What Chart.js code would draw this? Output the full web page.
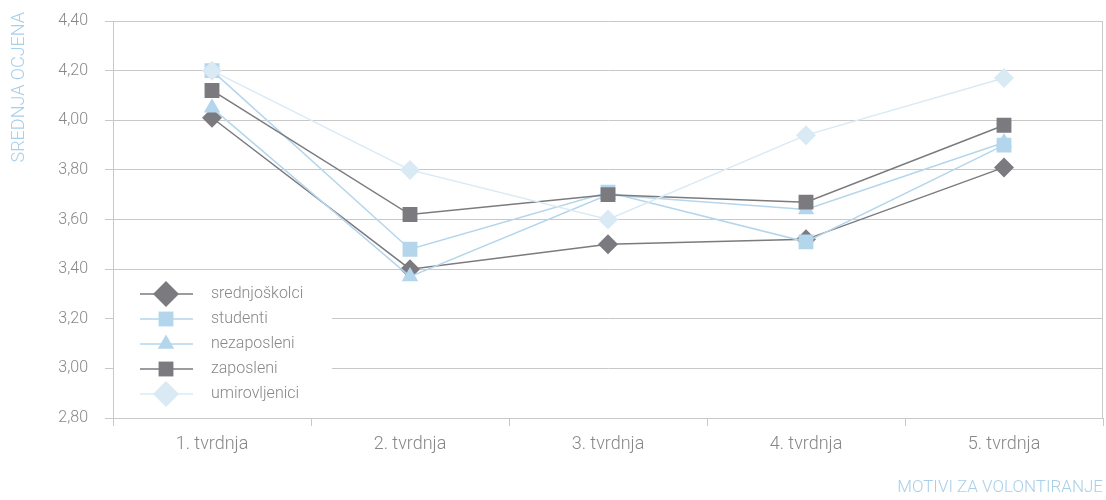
<!DOCTYPE html>
<html>
<head>
<meta charset="utf-8">
<script src="https://cdn.jsdelivr.net/npm/chart.js@4/dist/chart.umd.min.js"></script>
<style>
html,body{margin:0;padding:0;background:#fff;overflow:hidden;}
canvas{display:block;}
</style>
</head>
<body>
<canvas id="c" width="1106" height="500"></canvas>
<script>
const FONT="Roboto,'DejaVu Sans Condensed',sans-serif";
const categories=['1. tvrdnja','2. tvrdnja','3. tvrdnja','4. tvrdnja','5. tvrdnja'];
const srednjoskolci=[4.01,3.40,3.50,3.52,3.81];
const studenti=[4.20,3.48,3.71,3.51,3.90];
const nezaposleni=[4.05,3.37,3.70,3.64,3.91];
const zaposleni=[4.12,3.62,3.70,3.67,3.98];
const umirovljenici=[4.20,3.80,3.60,3.94,4.17];
const yTicks=[2.8,3.0,3.2,3.4,3.6,3.8,4.0,4.2,4.4];

const DARK='#7b7a7f', BLUE='#b4d6ec', PALE='#d9eaf5', GRID='#c8c8c8', TXT='#878787', TITLE='#a9cfe9';

// [label, data, colour, style, radius in chart, radius in legend, draw order]
const series=[
  ['srednjoškolci',srednjoskolci,DARK,'rectRot',10,13,4],
  ['studenti',studenti,BLUE,'rect',10.5,10.5,2],
  ['nezaposleni',nezaposleni,BLUE,'triangle',9.5,9.5,3],
  ['zaposleni',zaposleni,DARK,'rect',10.5,10.5,1],
  ['umirovljenici',umirovljenici,PALE,'rectRot',10,13,0]
];

const boxLegend={id:'boxLegend',
  beforeDatasetsDraw(chart){
    const ctx=chart.ctx;ctx.save();
    ctx.fillStyle='#fff';ctx.fillRect(114,273,218,138);
    const a=chart.chartArea;ctx.strokeStyle=GRID;ctx.lineWidth=1;
    ctx.beginPath();ctx.moveTo(a.right-0.5,a.top);ctx.lineTo(a.right-0.5,a.bottom);ctx.stroke();
    series.forEach((s,i)=>{
      const y=294+i*25;
      ctx.strokeStyle=s[2];ctx.lineWidth=1.5;
      ctx.beginPath();ctx.moveTo(140,y);ctx.lineTo(193,y);ctx.stroke();
      ctx.fillStyle=s[2];
      Chart.helpers.drawPoint(ctx,{pointStyle:s[3],radius:s[5],borderWidth:0,rotation:0},166,y);
      ctx.fillStyle=TXT;ctx.font='300 16px '+FONT;ctx.textBaseline='middle';ctx.textAlign='left';
      ctx.fillText(s[0],211,y);
    });
    ctx.restore();
  },
  afterDraw(chart){
    const ctx=chart.ctx;ctx.save();
    ctx.fillStyle=TITLE;ctx.font='300 17px '+FONT;
    ctx.textAlign='right';ctx.textBaseline='middle';
    ctx.fillText('MOTIVI ZA VOLONTIRANJE',1103,488);
    ctx.font='300 18px '+FONT;
    ctx.translate(19,12);ctx.rotate(-Math.PI/2);
    ctx.fillText('SREDNJA OCJENA',0,0);
    ctx.restore();
  }
};

new Chart(document.getElementById('c'),{
  type:'line',
  data:{labels:categories,datasets:series.map(s=>({label:s[0],data:s[1],borderColor:s[2],backgroundColor:s[2],
    borderWidth:1.5,pointStyle:s[3],pointRadius:s[4],pointBorderWidth:0,pointHoverRadius:s[4],order:s[6],tension:0}))},
  options:{responsive:false,animation:false,
    layout:{autoPadding:false,padding:{top:21,right:3,left:0,bottom:0}},
    plugins:{legend:{display:false},tooltip:{enabled:false}},
    scales:{
      x:{offset:true,afterFit:s=>{s.height=82;s.paddingLeft=0;s.paddingRight=0;},
        grid:{offset:true,drawOnChartArea:false,color:GRID,tickLength:8},
        border:{display:true,color:GRID},
        ticks:{color:TXT,font:{family:FONT,size:18,weight:300},padding:8,maxRotation:0}},
      y:{min:2.8,max:4.4,afterFit:s=>{s.width=113;s.paddingTop=0;s.paddingBottom=0;},
        afterBuildTicks:s=>{s.ticks=yTicks.map(v=>({value:v}));},
        grid:{color:GRID,tickLength:8},
        border:{display:true,color:GRID},
        ticks:{color:TXT,font:{family:FONT,size:16,weight:300},padding:17,callback:v=>Number(v).toFixed(2).replace('.',',')}}
    }
  },
  plugins:[boxLegend]
});
</script>
</body>
</html>
